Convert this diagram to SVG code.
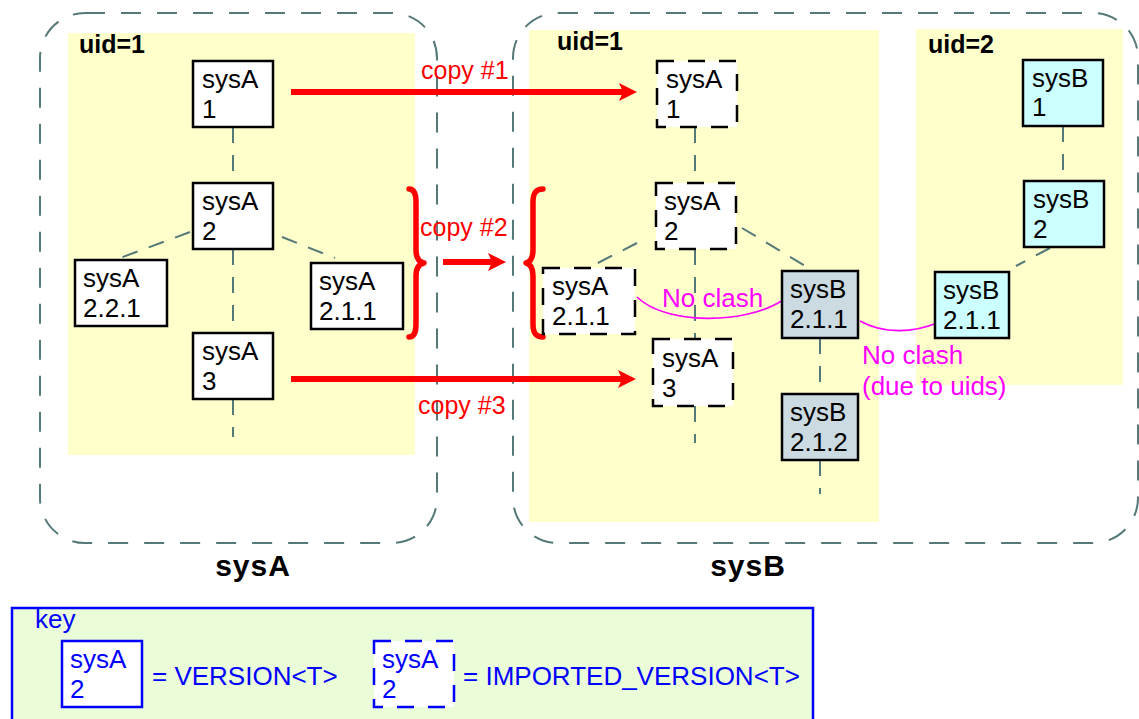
<svg xmlns="http://www.w3.org/2000/svg" width="1139" height="719" viewBox="0 0 1139 719">
<style>
text{font-family:"Liberation Sans",Arial,sans-serif}
.cont{fill:none;stroke:#557878;stroke-width:2;stroke-dasharray:20 16}
.yel{fill:#FFFFCC}
.conn line{stroke:#557878;stroke-width:2;stroke-dasharray:16 12;fill:none}
.ver{fill:#fff;stroke:#000;stroke-width:2.5}
.imp{fill:#fff;stroke:#000;stroke-width:2.5;stroke-dasharray:17 14}
.sb{fill:#CBDBE1;stroke:#000;stroke-width:2.5}
.cy{fill:#CCFFFF;stroke:#000;stroke-width:2.5}
.n{font-size:26px;fill:#000}
.uid{font-size:25px;font-weight:bold;fill:#000}
.ttl{font-size:30px;font-weight:bold;fill:#000;letter-spacing:1px;text-anchor:middle}
.red{font-size:25px;fill:#FF0000}
.mag{font-size:26px;fill:#FF00FF}
.arr{stroke:#FF0000;stroke-width:6;fill:none}
.brace{stroke:#FF0000;stroke-width:5.5;fill:none;stroke-linecap:round;stroke-linejoin:round}
.clash{stroke:#FF00FF;stroke-width:1.6;fill:none}
.lgt{font-size:26px;fill:#0000FF}
.lgn{font-size:26px;fill:#0000FF}
</style>
<defs>
<marker id="ah" markerUnits="userSpaceOnUse" markerWidth="20" markerHeight="20" refX="8" refY="9" orient="auto">
<path d="M0,0 L18,9 L0,18 L4,9 z" fill="#FF0000"/>
</marker>
</defs>

<!-- containers -->
<g id="sysA-container">
<rect class="cont" x="40" y="13" width="397" height="530" rx="45" ry="45"/>
<rect class="yel" x="68" y="33" width="347" height="422"/>
<text class="uid" x="79" y="53">uid=1</text>
<text class="ttl" x="253" y="576">sysA</text>
</g>
<g id="sysB-container">
<rect class="cont" x="513" y="13" width="625" height="530" rx="45" ry="45"/>
<rect class="yel" x="529" y="30" width="350" height="492"/>
<rect class="yel" x="916" y="29" width="207" height="356"/>
<text class="uid" x="557" y="50">uid=1</text>
<text class="uid" x="928" y="53">uid=2</text>
<text class="ttl" x="748" y="576">sysB</text>
</g>

<!-- connectors -->
<g id="connectors" class="conn">
<line x1="233" y1="127" x2="233" y2="183"/>
<line x1="233" y1="249" x2="233" y2="333"/>
<line x1="233" y1="399" x2="233" y2="437"/>
<line x1="190" y1="232" x2="120" y2="258"/>
<line x1="282" y1="237" x2="335" y2="258"/>
<line x1="695" y1="127" x2="695" y2="183"/>
<line x1="695" y1="249" x2="695" y2="339"/>
<line x1="695" y1="406" x2="695" y2="443"/>
<line x1="637" y1="243" x2="590" y2="267"/>
<line x1="742" y1="228" x2="812" y2="270"/>
<line x1="820" y1="338" x2="820" y2="394"/>
<line x1="820" y1="460" x2="820" y2="494"/>
<line x1="1063" y1="126" x2="1063" y2="181"/>
<line x1="1050" y1="248" x2="1016" y2="266"/>
<path class="arr" d="M291,92 H627" marker-end="url(#ah)"/>
<path class="arr" d="M443,262 H496" marker-end="url(#ah)"/>
<path class="arr" d="M291,379 H626" marker-end="url(#ah)"/>
<path class="brace" d="M409,189 C414,189 416,193 416,202 L416,250 C416,258 419,262 424,263 C419,264 416,268 416,276 L416,324 C416,333 414,337 409,337"/>
<path class="brace" d="M543,189 C536,189 533,193 533,202 L533,250 C533,258 530,262 526,263 C530,264 533,268 533,276 L533,324 C533,333 536,337 543,337"/>
<path class="clash" d="M637,297 C665,325 745,325 783,300"/>
<path class="clash" d="M860,321 C885,335 915,332 937,323"/>
</g>

<!-- connector labels -->
<g id="labels">
<text class="red" x="421" y="79">copy #1</text>
<text class="red" x="420" y="236">copy #2</text>
<text class="red" x="418" y="414">copy #3</text>
<text class="mag" x="662" y="307">No clash</text>
<text class="mag" x="862" y="364">No clash</text>
<text class="mag" x="862" y="395">(due to uids)</text>
</g>

<!-- sysA nodes -->
<g id="a-sysA1"><rect class="ver" x="193" y="61" width="80" height="66"/><text class="n" x="202" y="88">sysA</text><text class="n" x="202" y="118">1</text></g>
<g id="a-sysA2"><rect class="ver" x="193" y="183" width="80" height="66"/><text class="n" x="202" y="210">sysA</text><text class="n" x="202" y="240">2</text></g>
<g id="a-sysA221"><rect class="ver" x="75" y="260" width="92" height="66"/><text class="n" x="83" y="287">sysA</text><text class="n" x="83" y="317">2.2.1</text></g>
<g id="a-sysA211"><rect class="ver" x="311" y="263" width="92" height="66"/><text class="n" x="319" y="290">sysA</text><text class="n" x="319" y="320">2.1.1</text></g>
<g id="a-sysA3"><rect class="ver" x="193" y="333" width="80" height="66"/><text class="n" x="202" y="360">sysA</text><text class="n" x="202" y="390">3</text></g>

<!-- sysB nodes uid=1 -->
<g id="b-sysA1"><rect class="imp" x="657" y="61" width="80" height="66"/><text class="n" x="666" y="88">sysA</text><text class="n" x="666" y="118">1</text></g>
<g id="b-sysA2"><rect class="imp" x="656" y="183" width="80" height="66"/><text class="n" x="664" y="210">sysA</text><text class="n" x="664" y="240">2</text></g>
<g id="b-sysA211"><rect class="imp" x="543" y="268" width="92" height="66"/><text class="n" x="552" y="295">sysA</text><text class="n" x="552" y="325">2.1.1</text></g>
<g id="b-sysA3"><rect class="imp" x="653" y="339" width="80" height="67"/><text class="n" x="662" y="367">sysA</text><text class="n" x="662" y="397">3</text></g>
<g id="b-sysB211"><rect class="sb" x="782" y="271" width="76" height="67"/><text class="n" x="790" y="298">sysB</text><text class="n" x="790" y="328">2.1.1</text></g>
<g id="b-sysB212"><rect class="sb" x="782" y="394" width="76" height="66"/><text class="n" x="790" y="421">sysB</text><text class="n" x="790" y="451">2.1.2</text></g>

<!-- sysB nodes uid=2 -->
<g id="b2-sysB1"><rect class="cy" x="1023" y="60" width="80" height="66"/><text class="n" x="1032" y="87">sysB</text><text class="n" x="1032" y="116">1</text></g>
<g id="b2-sysB2"><rect class="cy" x="1024" y="181" width="80" height="66"/><text class="n" x="1033" y="208">sysB</text><text class="n" x="1033" y="238">2</text></g>
<g id="b2-sysB211"><rect class="cy" x="935" y="272" width="74" height="66"/><text class="n" x="943" y="299">sysB</text><text class="n" x="943" y="329">2.1.1</text></g>

<!-- key -->
<g id="key">
<rect x="12" y="608" width="801" height="120" fill="#EBFDD8" stroke="#0000FF" stroke-width="2.5"/>
<text class="lgn" x="35" y="628">key</text>
<rect x="62" y="641" width="80" height="66" fill="#fff" stroke="#0000FF" stroke-width="2.5"/>
<text class="lgn" x="70" y="668">sysA</text>
<text class="lgn" x="70" y="698">2</text>
<text class="lgt" x="152" y="685">= VERSION&lt;T&gt;</text>
<rect x="374" y="641" width="80" height="66" fill="#fff" stroke="#0000FF" stroke-width="2.5" stroke-dasharray="17 14"/>
<text class="lgn" x="382" y="668">sysA</text>
<text class="lgn" x="382" y="698">2</text>
<text class="lgt" x="463" y="685">= IMPORTED_VERSION&lt;T&gt;</text>
</g>
</svg>
